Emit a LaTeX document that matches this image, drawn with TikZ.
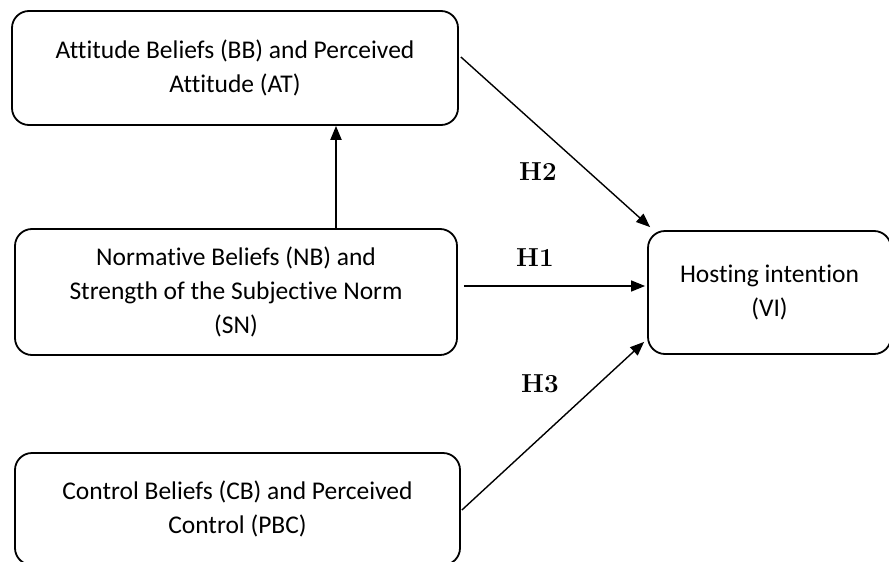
\documentclass[tikz,border=0pt]{standalone}
\usepackage{fontspec}
\newfontfamily\calfont[Ligatures=NoCommon]{Carlito}
\usetikzlibrary{arrows.meta,calc}
\begin{document}
\begin{tikzpicture}[x=1pt,y=-1pt,
  box/.style={draw, line width=1.8pt, rounded corners=17pt, align=center, inner sep=0pt,
    font=\calfont\fontsize{25.5}{34}\selectfont},
  arr/.style={line width=1.4pt, -{Triangle[length=14pt,width=11pt]}},
  hlab/.style={font=\fontsize{26}{30}\selectfont\bfseries, inner sep=0pt}]
\useasboundingbox (0,0) rectangle (889,562);
\node[box, minimum width=446pt, minimum height=114pt] (ab) at (235,68)
  {Attitude Beliefs (BB) and Perceived\\Attitude (AT)};
\node[box, minimum width=442pt, minimum height=126pt] (nb) at (236,292)
  {Normative Beliefs (NB) and\\Strength of the Subjective Norm\\(SN)};
\node[box, minimum width=445pt, minimum height=112pt] (cb) at (237.5,509)
  {Control Beliefs (CB) and Perceived\\Control (PBC)};
\node[box, minimum width=243pt, minimum height=123pt] (vi) at (769.5,292.5)
  {Hosting intention\\(VI)};
\coordinate (vx) at (336,0);
\draw[arr, line width=2pt] (nb.north -| vx) -- (ab.south -| vx);
\draw[arr] ($(ab.east)+(2,-11)$) -- ($(vi.north west)+(3,-3)$);
\draw[arr] ($(nb.east)+(6,-6)$) -- ($(vi.west)+(-2,-6.5)$);
\draw[arr] ($(cb.east)+(1,1)$) -- ($(vi.south west)+(-3,-13)$);
\node[hlab] (h2) at (538,172) {H2};
\node[hlab] (h1) at (535,258) {H1};
\node[hlab] (h3) at (540,384) {H3};
\end{tikzpicture}
\end{document}
